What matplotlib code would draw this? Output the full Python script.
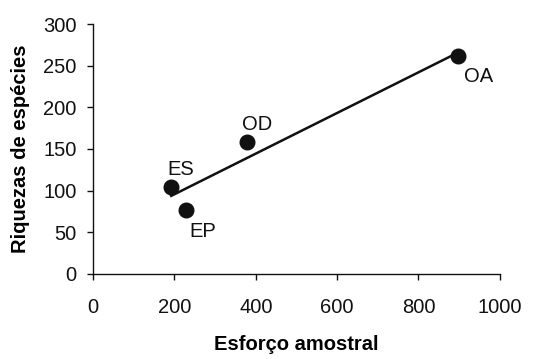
import matplotlib

matplotlib.use("Agg")
import matplotlib.pyplot as plt
import numpy as np

plt.rcParams["font.family"] = ["Liberation Sans", "DejaVu Sans"]

sites = ["ES", "EP", "OD", "OA"]
effort = [192, 228, 378, 897]
richness = [104, 77, 158, 262]

# label offsets in points (dx, dy)
offsets = {"ES": (7, 12.5), "EP": (12.5, -15.5), "OD": (7.5, 13), "OA": (15, -15)}

fig = plt.figure(figsize=(5.48, 3.59), dpi=100)
ax = fig.add_axes([0.170, 0.237, 0.742, 0.696])

x = np.array(effort)
y = np.array(richness)
slope, intercept = np.polyfit(x, y, 1)
xs = np.array([x.min(), x.max()])
ax.plot(xs, slope * xs + intercept, color="#111111", lw=1.8, zorder=2)
ax.plot(x, y, "o", color="#111111", ms=10.5, zorder=3)

for name, xi, yi in zip(sites, effort, richness):
    dx, dy = offsets[name]
    ax.annotate(name, (xi, yi), xytext=(dx, dy), textcoords="offset points",
                ha="center", va="center", fontsize=14.5, color="#111111")

ax.set_xlim(0, 1000)
ax.set_ylim(0, 300)
ax.set_xticks(np.arange(0, 1001, 200))
ax.set_yticks(np.arange(0, 301, 50))
ax.spines["top"].set_visible(False)
ax.spines["right"].set_visible(False)
for s in ("left", "bottom"):
    ax.spines[s].set_linewidth(1.0)
    ax.spines[s].set_color("#111111")
ax.tick_params(direction="out", length=4, width=1, colors="#111111", labelsize=14.5)
ax.tick_params(axis="x", pad=13)
ax.tick_params(axis="y", pad=8)
ax.set_xlabel("Esforço amostral", fontsize=14.5, fontweight="bold", labelpad=13)
ax.set_ylabel("Riquezas de espécies", fontsize=14.5, fontweight="bold", labelpad=9)

fig.savefig("out.png", dpi=100)
